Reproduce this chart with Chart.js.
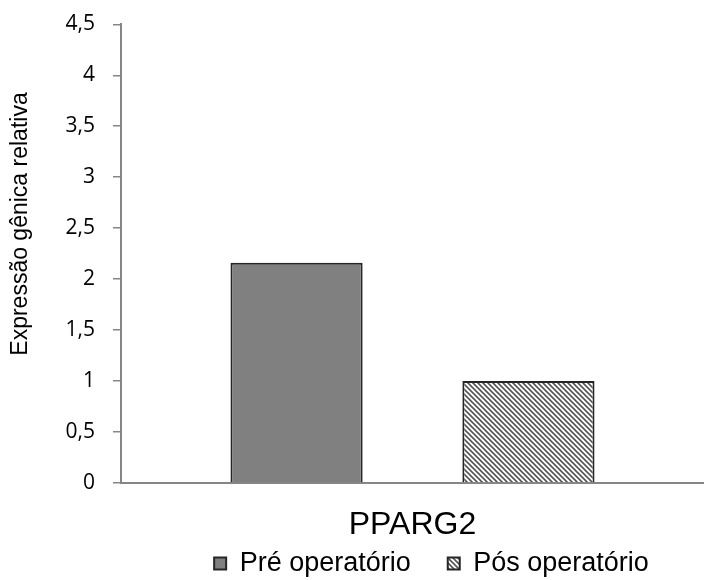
<!DOCTYPE html>
<html>
<head>
<meta charset="utf-8">
<script src="https://cdn.jsdelivr.net/npm/chart.js@4.4.1/dist/chart.umd.min.js"></script>
<style>
    html, body { margin: 0; padding: 0; background: #ffffff; }
    #wrap { width: 704px; height: 580px; }
</style>
</head>
<body>
<div id="wrap"><canvas id="grafico" width="704" height="580"></canvas></div>
<script>
// Datos del gráfico
const categorias = ['PPARG2'];
const valoresPre = [2.16];
const valoresPos = [1.0];
const nombresSeries = ['Pré operatório', 'Pós operatório'];
const tituloEjeY = 'Expressão gênica relativa';

// Trama diagonal para la serie "Pós operatório"
function crearTrama() {
    const n = 5;
    const tile = document.createElement('canvas');
    tile.width = n;
    tile.height = n;
    const c = tile.getContext('2d');
    c.fillStyle = '#ffffff';
    c.fillRect(0, 0, n, n);
    c.strokeStyle = '#555555';
    c.lineWidth = 1.6;
    c.beginPath();
    c.moveTo(-1, -1); c.lineTo(n + 1, n + 1);
    c.moveTo(-n - 1, -1); c.lineTo(1, n + 1);
    c.moveTo(n - 1, -1); c.lineTo(2 * n + 1, n + 1);
    c.stroke();
    return c.createPattern(tile, 'repeat');
}

// Título del eje Y dibujado a mano (Excel no lo centra en el eje)
const tituloY = {
    id: 'tituloY',
    afterDraw(chart) {
        const c = chart.ctx;
        c.save();
        c.translate(21, 224);
        c.rotate(-Math.PI / 2);
        c.font = '23px "Liberation Sans"';
        c.fillStyle = '#000000';
        c.textAlign = 'center';
        c.textBaseline = 'middle';
        c.fillText(tituloEjeY, 0, 0);
        c.restore();
    }
};

// Mover la leyenda a su sitio, como en el original
const moverLeyenda = {
    id: 'moverLeyenda',
    afterLayout(chart) {
        chart.legend.left += 19;
        chart.legend.right += 19;
        chart.legend.top -= 28;
        chart.legend.bottom -= 28;
    }
};

const ctx = document.getElementById('grafico').getContext('2d');
const trama = crearTrama();

new Chart(ctx, {
    type: 'bar',
    data: {
        labels: categorias,
        datasets: [{
            label: nombresSeries[0],
            data: valoresPre,
            backgroundColor: '#808080',
            borderColor: '#262626',
            borderWidth: 2
        }, {
            label: nombresSeries[1],
            data: valoresPos,
            backgroundColor: trama,
            borderColor: '#262626',
            borderWidth: 2
        }]
    },
    plugins: [tituloY, moverLeyenda],
    options: {
        responsive: false,
        animation: false,
        categoryPercentage: 0.7955,
        barPercentage: 0.57,
        layout: {
            padding: { top: 0, right: 0, left: 0, bottom: -35 }
        },
        plugins: {
            tooltip: { enabled: false },
            legend: {
                position: 'bottom',
                fullSize: false,
                labels: {
                    font: { family: 'Liberation Sans', size: 27 },
                    color: '#000000',
                    boxWidth: 12,
                    boxHeight: 12,
                    padding: 37
                }
            }
        },
        scales: {
            x: {
                afterFit: (scale) => { scale.height = 58; },
                grid: { display: false, drawTicks: false },
                border: { display: true, color: '#868686', width: 2 },
                ticks: {
                    font: { family: 'Liberation Sans', size: 32 },
                    color: '#000000',
                    padding: 23
                }
            },
            y: {
                min: 0,
                max: 4.5,
                afterFit: (scale) => { scale.width = 121; },
                border: { display: true, color: '#868686', width: 2 },
                grid: {
                    drawOnChartArea: false,
                    drawTicks: true,
                    tickLength: 8,
                    color: '#868686',
                    lineWidth: 1.5
                },
                ticks: {
                    stepSize: 0.5,
                    padding: 18,
                    color: '#000000',
                    font: { family: 'Open Sans', size: 21, lineHeight: 0.6 },
                    callback: (v) => v.toString().replace('.', ',')
                }
            }
        }
    }
});
</script>
</body>
</html>
